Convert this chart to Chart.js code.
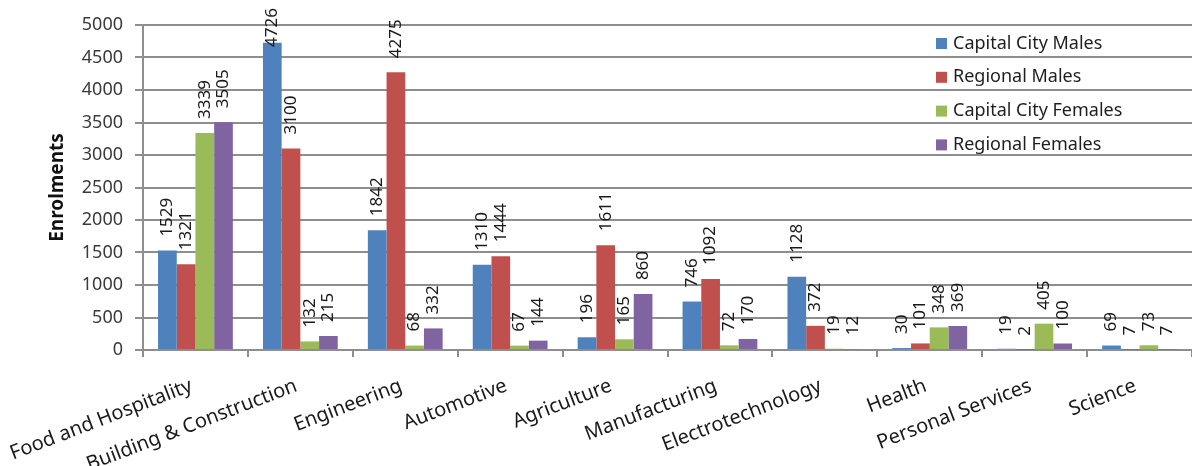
<!DOCTYPE html>
<html>
<head>
<meta charset="utf-8">
<script src="https://cdn.jsdelivr.net/npm/chart.js@4/dist/chart.umd.min.js"></script>
<style>
  html, body { margin: 0; padding: 0; background: #ffffff; }
  canvas { display: block; }
</style>
</head>
<body>
<canvas id="chart" width="1192" height="466"></canvas>
<script>
// Enrolments by industry area, split by location and sex
const categories = [
  'Food and Hospitality', 'Building & Construction', 'Engineering', 'Automotive',
  'Agriculture', 'Manufacturing', 'Electrotechnology', 'Health',
  'Personal Services', 'Science'
];
const seriesNames = ['Capital City Males', 'Regional Males', 'Capital City Females', 'Regional Females'];
const capitalCityMales   = [1529, 4726, 1842, 1310, 196, 746, 1128, 30, 19, 69];
const regionalMales      = [1321, 3100, 4275, 1444, 1611, 1092, 372, 101, 2, 7];
const capitalCityFemales = [3339, 132, 68, 67, 165, 72, 19, 348, 405, 73];
const regionalFemales    = [3505, 215, 332, 144, 860, 170, 12, 369, 100, 7];
const yTickValues = [0, 500, 1000, 1500, 2000, 2500, 3000, 3500, 4000, 4500, 5000];

const seriesColors = ['#4F81BD', '#C0504D', '#9BBB59', '#8064A2'];
const gridColor = '#8e8e8e';
const FONT = '"Noto Sans", "Open Sans", sans-serif';

// Horizontal gridlines, painted underneath everything already on the canvas
function drawPlotGrid(chart) {
  const ctx = chart.ctx;
  const xs = chart.scales.x;
  const ys = chart.scales.y;
  ctx.save();
  ctx.globalCompositeOperation = 'destination-over';
  ctx.fillStyle = gridColor;
  yTickValues.forEach(v => {
    const py = Math.round(ys.getPixelForValue(v));
    ctx.fillRect(xs.left, py - 1, xs.right - xs.left, 2);
  });
  ctx.restore();
}

// Vertical value labels above each bar
function drawValueLabels(chart) {
  const ctx = chart.ctx;
  ctx.save();
  ctx.font = '17px ' + FONT;
  ctx.fillStyle = '#1a1a1a';
  ctx.textAlign = 'left';
  ctx.textBaseline = 'middle';
  chart.data.datasets.forEach((ds, i) => {
    const meta = chart.getDatasetMeta(i);
    meta.data.forEach((bar, j) => {
      const text = String(ds.data[j]);
      const w = ctx.measureText(text).width;
      let start = bar.y - 14;
      if (start - w < 8) start = 8 + w;
      ctx.save();
      ctx.translate(bar.x, start);
      ctx.rotate(-Math.PI / 2);
      ctx.fillText(text, 0, 0);
      ctx.restore();
    });
  });
  ctx.restore();
}

const barDecorations = {
  id: 'barDecorations',
  afterDatasetsDraw(chart) { drawValueLabels(chart); }
};

// Legend drawn inside the plot, top right
const insideLegend = {
  id: 'insideLegend',
  afterDraw(chart) {
    const ctx = chart.ctx;
    const x0 = chart.scales.x.right - 256;
    const top = chart.scales.y.top;
    ctx.save();
    ctx.font = '18px ' + FONT;
    ctx.textAlign = 'left';
    ctx.textBaseline = 'middle';
    chart.data.datasets.forEach((ds, i) => {
      const y = top + 18.5 + i * 33.8;
      ctx.fillStyle = ds.backgroundColor;
      ctx.fillRect(x0, y - 5.5, 11, 11);
      ctx.fillStyle = '#1e1e1e';
      ctx.fillText(ds.label, x0 + 17, y);
    });
    ctx.restore();
  }
};

const seriesData = [capitalCityMales, regionalMales, capitalCityFemales, regionalFemales];

const chart = new Chart(document.getElementById('chart'), {
  type: 'bar',
  data: {
    labels: categories,
    datasets: seriesNames.map((name, i) => ({
      label: name,
      data: seriesData[i],
      backgroundColor: seriesColors[i],
      borderWidth: 0,
      categoryPercentage: 0.713,
      barPercentage: 1.0
    }))
  },
  options: {
    responsive: false,
    animation: false,
    devicePixelRatio: 1,
    layout: { padding: { top: 25, right: 0, bottom: 0, left: 0 } },
    plugins: { legend: { display: false }, tooltip: { enabled: false } },
    scales: {
      x: {
        offset: true,
        grid: { display: true, drawOnChartArea: false, drawTicks: true, tickLength: 7, color: gridColor, lineWidth: 2 },
        border: { display: true, color: gridColor, width: 2 },
        ticks: { autoSkip: false, minRotation: 21, maxRotation: 21, padding: 17, labelOffset: -4, color: '#1a1a1a', font: { family: FONT, size: 20 } },
        afterFit(scale) { scale.height = 116; scale.paddingLeft = 0; scale.paddingRight = 0; }
      },
      y: {
        min: yTickValues[0],
        max: yTickValues[yTickValues.length - 1],
        ticks: { stepSize: yTickValues[1] - yTickValues[0], padding: 12, color: '#3a3a3a', font: { family: FONT, size: 18 }, callback: (value) => String(value) },
        grid: { color: gridColor, lineWidth: 2, tickLength: 8, drawOnChartArea: false, drawTicks: true },
        border: { display: true, color: gridColor, width: 2 },
        title: { display: true, text: 'Enrolments', color: '#111111', font: { family: FONT, size: 19, weight: 'bold' }, padding: { top: 46, bottom: 0 } },
        afterFit(scale) { scale.width = 143; }
      }
    }
  },
  plugins: [barDecorations, insideLegend]
});

// Once the chart has rendered, lay the gridlines in behind it
setTimeout(() => drawPlotGrid(chart), 0);
</script>
</body>
</html>
